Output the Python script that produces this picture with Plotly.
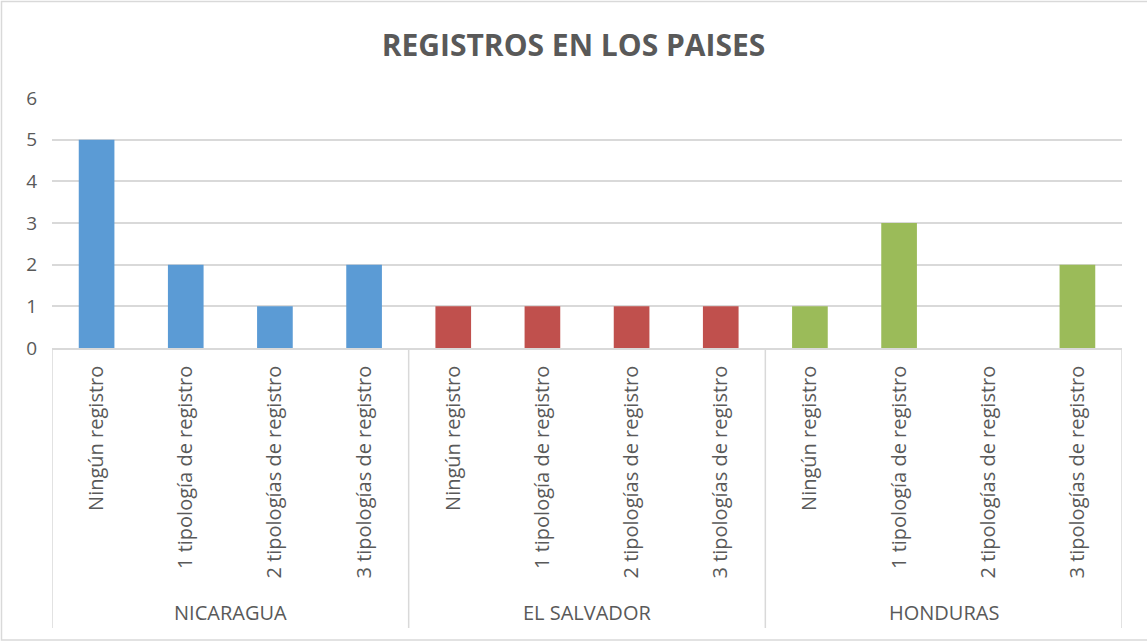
import plotly.graph_objects as go

countries = ["NICARAGUA", "EL SALVADOR", "HONDURAS"]
categories = ["Ningún registro", "1 tipología de registro", "2 tipologías de registro", "3 tipologías de registro"]
nicaragua = [5, 2, 1, 2]
el_salvador = [1, 1, 1, 1]
honduras = [1, 3, 0, 2]
colors = ["#5B9BD5", "#C0504D", "#9BBB59"]

n = len(categories)
fig = go.Figure()
for g, (country, vals, col) in enumerate(zip(countries, [nicaragua, el_salvador, honduras], colors)):
    fig.add_trace(go.Bar(
        x=[g * n + i for i in range(n)],
        y=vals,
        marker=dict(color=col, line=dict(width=0)),
        name=country,
        showlegend=False,
        width=0.4,
    ))

tickvals = list(range(n * len(countries)))
ticktext = categories * len(countries)

PLOT_W = 1070  # plot area width in px
PLOT_H = 250  # plot area height in px (641 - 98 - 293)
annotations = []
shapes = []
for g, country in enumerate(countries):
    annotations.append(dict(text=country, x=g * n + (n - 1) / 2, xref="x", y=-(612 - 348) / PLOT_H, yref="paper",
                            xanchor="center", yanchor="middle", showarrow=False,
                            font=dict(family="Open Sans", size=20, color="#595959")))
for b in range(len(countries) + 1):
    shapes.append(dict(type="line", xref="x", yref="paper", x0=b * n - 0.5, x1=b * n - 0.5,
                       y0=0, y1=-(628 - 348) / PLOT_H, line=dict(color="#D9D9D9", width=1.5)))
shapes.append(dict(type="rect", xref="paper", yref="paper", x0=(1.5 - 52) / PLOT_W, x1=(1150 - 52) / PLOT_W,
                   y0=-(640 - 348) / PLOT_H, y1=1 + (98 - 1.5) / PLOT_H,
                   line=dict(color="#D9D9D9", width=1.5), fillcolor="rgba(0,0,0,0)", layer="below"))

fig.update_layout(
    width=1147, height=641,
    paper_bgcolor="white", plot_bgcolor="white",
    margin=dict(l=52, r=25, t=98, b=293),
    barmode="overlay",
    title=dict(text="<b>REGISTROS EN LOS PAISES</b>", x=0.5, xanchor="center", y=1 - 45 / 641, yanchor="middle",
               font=dict(family="Open Sans", size=30, color="#595959")),
    font=dict(family="Open Sans", color="#595959"),
    xaxis=dict(tickmode="array", tickvals=tickvals, ticktext=ticktext, range=[-0.5, n * len(countries) - 0.5],
               tickangle=-90, tickfont=dict(size=20, color="#595959"),
               showline=True, linecolor="#D9D9D9", linewidth=1.5,
               ticks="", showgrid=False, zeroline=False, ticklabelstandoff=8),
    yaxis=dict(range=[0, 6], dtick=1, showgrid=True, gridcolor="#D9D9D9", gridwidth=1.5,
               tickfont=dict(size=19, color="#595959"), zeroline=False, ticklen=0, showline=False,
               ticklabelstandoff=14),
    annotations=annotations,
    shapes=shapes,
)

fig.write_html("out.html", config={"displayModeBar": False},
               post_script="document.body.style.margin='0';document.body.style.padding='0';")
